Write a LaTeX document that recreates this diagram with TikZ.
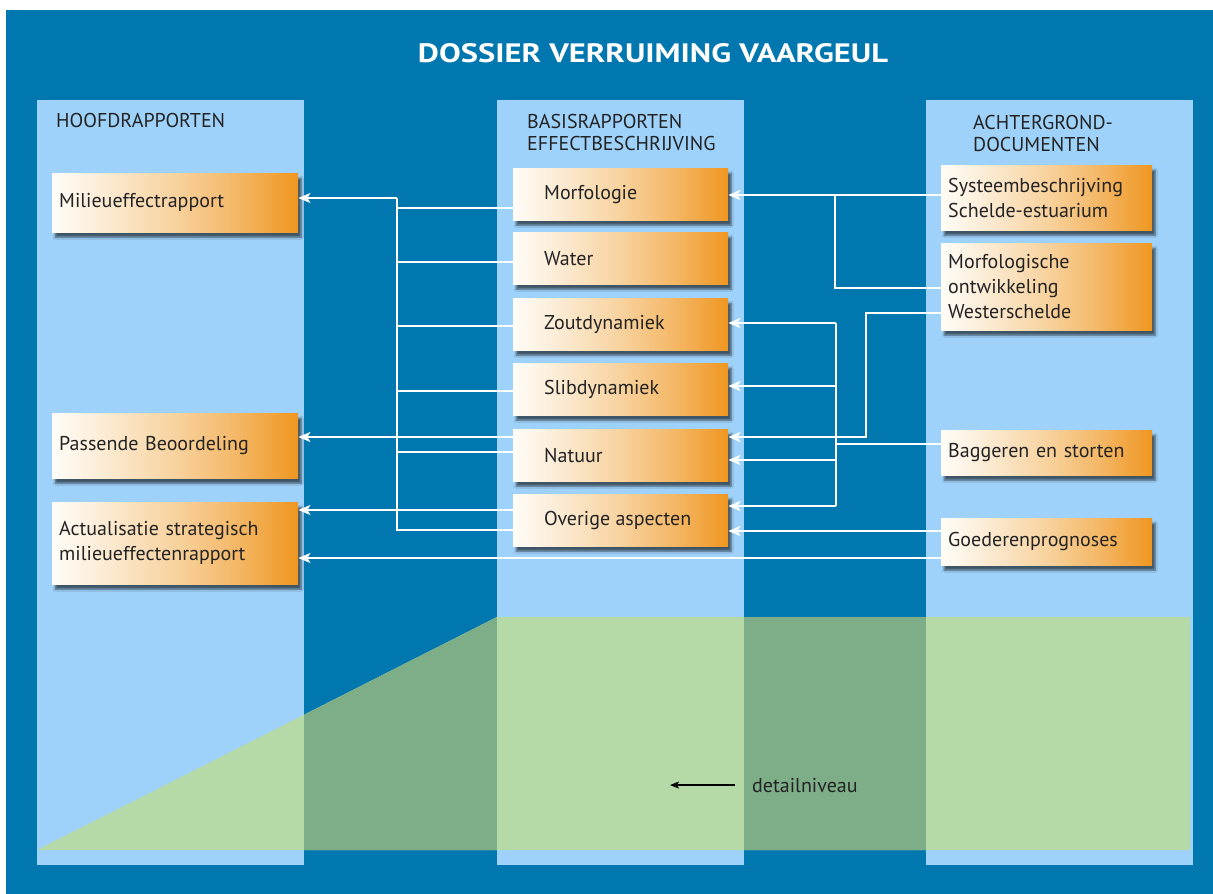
\documentclass[tikz,border=0pt]{standalone}
\usepackage{fontspec}
\setmainfont{PT Sans}
\usetikzlibrary{arrows.meta,shadows.blur}
\definecolor{dblue}{RGB}{0,119,174}
\definecolor{lblue}{RGB}{159,210,250}
\definecolor{lgreen}{RGB}{182,217,168}
\definecolor{dgreen}{RGB}{125,174,136}
\definecolor{txt}{RGB}{35,35,35}
\definecolor{or0}{RGB}{255,253,248}
\definecolor{or1}{RGB}{251,232,205}
\definecolor{or2}{RGB}{248,210,158}
\definecolor{or3}{RGB}{244,183,102}
\definecolor{or4}{RGB}{239,150,32}
\pgfdeclarehorizontalshading{boxshade}{100bp}{color(0bp)=(or0); color(25bp)=(or0); color(37.5bp)=(or1); color(50bp)=(or2); color(62.5bp)=(or3); color(75bp)=(or4); color(100bp)=(or4)}
\newcommand{\mtxt}[1]{\makebox[153pt][l]{#1}}
\tikzset{
  basebox/.style={shade, shading=boxshade, anchor=north west, inner ysep=0pt,
    blur shadow={shadow xshift=3pt, shadow yshift=-5pt, shadow opacity=60, shadow blur steps=6},
    font=\fontsize{20}{25}\selectfont, text=txt, align=left},
  lbox/.style={basebox, inner xsep=7pt, text width=232pt, minimum width=246pt},
  mbox/.style={basebox, inner xsep=31pt, minimum width=215pt, minimum height=52pt},
  rbox/.style={basebox, inner xsep=7pt, text width=197pt, minimum width=211pt},
  hdr/.style={anchor=base west, inner sep=0pt, font=\fontsize{20}{22}\selectfont, text=txt, align=left},
  conn/.style={draw=white, line width=1.8pt, line join=miter},
  arr/.style={conn, -{Stealth[length=12pt,width=10pt,inset=3pt]}}
}
\begin{document}
\begin{tikzpicture}[x=1pt,y=-1pt]
\useasboundingbox (0,0) rectangle (1213,894);
\fill[white] (0,0) rectangle (1213,894);
\fill[dblue] (6,10) rectangle (1213,894);
% columns
\fill[lblue] (37,100) rectangle (304,865);
\fill[lblue] (497,100) rectangle (744,865);
\fill[lblue] (926,100) rectangle (1193,865);
% green detail wedge
\fill[lgreen] (37,850) -- (497,617) -- (1190,617) -- (1190,850) -- cycle;
\begin{scope}
  \clip (37,850) -- (497,617) -- (1190,617) -- (1190,850) -- cycle;
  \fill[dgreen] (304,600) rectangle (497,865);
  \fill[dgreen] (744,600) rectangle (926,865);
\end{scope}
% title
\node[anchor=base, inner sep=0pt, text=white] (title) at (653,62)
  {\resizebox{470pt}{19pt}{\bfseries DOSSIER VERRUIMING VAARGEUL}};
% headers
\node[hdr] (h1) at (56,127) {HOOFDRAPPORTEN};
\node[hdr] (h2) at (527,150) {BASISRAPPORTEN\\EFFECTBESCHRIJVING};
\node[hdr] (h3) at (973,151) {ACHTERGROND-\\DOCUMENTEN};
% left boxes
\node[lbox, minimum height=59pt] (mer) at (52,173) {Milieueffectrapport};
\node[lbox, minimum height=65pt] (pb) at (52,413) {Passende Beoordeling};
\node[lbox, minimum height=82pt] (asm) at (52,502) {Actualisatie strategisch\\milieueffectenrapport};
% middle boxes
\node[mbox] (morf) at (513,168) {\mtxt{Morfologie}};
\node[mbox] (water) at (513,232) {\mtxt{Water}};
\node[mbox] (zout) at (513,298) {\mtxt{Zoutdynamiek}};
\node[mbox] (slib) at (513,363) {\mtxt{Slibdynamiek}};
\node[mbox] (nat) at (513,429) {\mtxt{Natuur}};
\node[mbox] (over) at (513,494) {\mtxt{Overige aspecten}};
% right boxes
\node[rbox, minimum height=65pt] (sys) at (941,165) {Systeembeschrijving\\Schelde-estuarium};
\node[rbox, minimum height=87pt] (mow) at (941,243) {Morfologische\\ontwikkeling\\Westerschelde};
\node[rbox, minimum height=45pt] (bag) at (941,430) {Baggeren en storten};
\node[rbox, minimum height=47pt] (goed) at (941,518) {Goederenprognoses};
% left bus
\coordinate (bL) at (397,198);
\coordinate (bLend) at (397,530);
\draw[arr] (bL) -- (mer.east |- bL);
\draw[conn] (bL) -- (bLend) -- (over.west |- bLend);
\draw[conn] (morf.west |- 0,208) -- (bL |- 0,208);
\draw[conn] (water.west |- 0,262) -- (bL |- 0,262);
\draw[conn] (zout.west |- 0,326) -- (bL |- 0,326);
\draw[conn] (slib.west |- 0,391) -- (bL |- 0,391);
\draw[conn] (nat.west |- 0,452) -- (bL |- 0,452);
\draw[arr] (nat.west |- 0,437) -- (pb.east |- 0,437);
\draw[arr] (over.west |- 0,510) -- (asm.east |- 0,510);
\draw[arr] (goed.west |- 0,558) -- (asm.east |- 0,558);
% right side
\coordinate (jR) at (835,195);
\draw[arr] (sys.west |- jR) -- (morf.east |- jR);
\draw[conn] (mow.west |- 0,288) -| (jR);
\coordinate (kR) at (866,437);
\draw[arr] (mow.west |- 0,313) -| (kR) -- (nat.east |- kR);
\coordinate (bR) at (836,323);
\coordinate (bRend) at (836,506);
\draw[conn] (bR) -- (bRend);
\draw[conn] (bag.west |- 0,444) -- (bR |- 0,444);
\draw[arr] (bR) -- (zout.east |- bR);
\draw[arr] (bR |- 0,386) -- (slib.east |- 0,386);
\draw[arr] (bR |- 0,460) -- (nat.east |- 0,460);
\draw[arr] (bRend) -- (over.east |- bRend);
\draw[arr] (goed.west |- 0,531) -- (over.east |- 0,531);
% detail level
\node[anchor=base west, inner sep=0pt, font=\fontsize{20}{22}\selectfont, text=txt] (det) at (752,792) {detailniveau};
\coordinate (dt) at (670,787);
\draw[black, line width=1.1pt, -{Stealth[length=9pt,width=7pt,inset=2pt]}] (det.west -| 735,0) -- (dt |- det.west);
\end{tikzpicture}
\end{document}
